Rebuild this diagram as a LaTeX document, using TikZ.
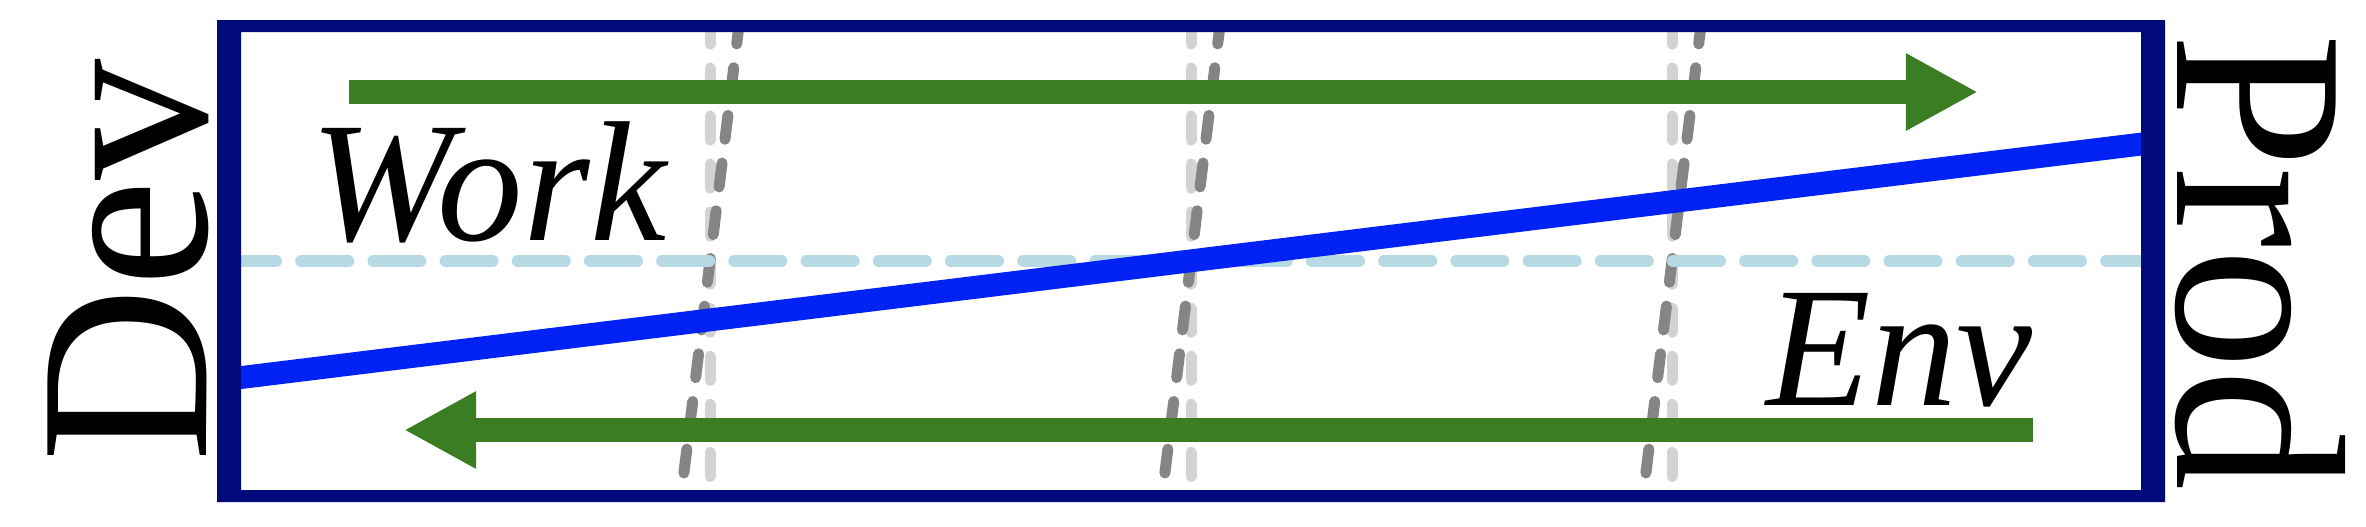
\documentclass[tikz,border=0pt]{standalone}
\usepackage{fontspec}
\setmainfont{Liberation Serif}
\usetikzlibrary{arrows.meta}
\definecolor{framenavy}{RGB}{0,10,122}
\definecolor{axisblue}{RGB}{0,34,245}
\definecolor{flowgreen}{RGB}{58,125,34}
\definecolor{midblue}{RGB}{182,217,228}
\definecolor{lgray}{RGB}{211,211,211}
\definecolor{dgray}{RGB}{133,133,133}
\begin{document}
\begin{tikzpicture}[x=0.01cm,y=-0.01cm,
  gridlight/.style={draw=lgray,line width=3.13pt,line cap=round,dash pattern=on 6.83pt off 6.83pt,dash phase=1.71pt},
  griddark/.style={draw=dgray,line width=3.13pt,line cap=round,dash pattern=on 6.83pt off 6.83pt,dash phase=1.71pt},
  midline/.style={draw=midblue,line width=3.41pt,line cap=round,dash pattern=on 13.37pt off 7.16pt},
  flow/.style={draw=flowgreen,line width=6.83pt,-{Triangle[length=20.5pt,width=20.5pt,fill=flowgreen]}},
  axisline/.style={draw=axisblue,line width=6.5pt},
  bigtext/.style={inner sep=0pt,font=\fontsize{68.9pt}{70pt}\selectfont},
  itext/.style={inner sep=0pt,font=\fontsize{48.7pt}{50pt}\selectfont\itshape}]
\useasboundingbox (0,0) rectangle (2366,526);
% vertical reference lines
\draw[gridlight] (710,26) -- (710,490);
\draw[gridlight] (1191,26) -- (1191,490);
\draw[gridlight] (1672,26) -- (1672,490);
% skewed lines
\draw[griddark] (738.9,26) -- (681.8,490);
\draw[griddark] (1219.9,26) -- (1162.8,490);
\draw[griddark] (1700.9,26) -- (1643.8,490);
% mid line
\coordinate (midL) at (229,261);
\coordinate (midR) at (2153,261);
\draw[midline] (midL) -- (midR);
% green arrows
\coordinate (workS) at (349,92);
\coordinate (workE) at (1978,92);
\coordinate (envS) at (2033,430);
\coordinate (envE) at (404,430);
\draw[flow] (workS) -- (workE);
\draw[flow] (envS) -- (envE);
% blue axis line
\coordinate (axL) at (229,379);
\coordinate (axR) at (2153,142.6);
\draw[axisline] (axL) -- (axR);
% frame
\fill[framenavy,even odd rule] (217,20) rectangle (2165,502) (241,32) rectangle (2141,490);
% texts
\node[bigtext,rotate=90,anchor=base] (dev) at (206,261) {Dev};
\node[bigtext,rotate=-90,anchor=base] (prod) at (2177,262) {Prod};
\node[itext,anchor=base west] (work) at (310,240) {Work};
\node[itext,anchor=base west] (env) at (1766,405) {Env};
\end{tikzpicture}
\end{document}
